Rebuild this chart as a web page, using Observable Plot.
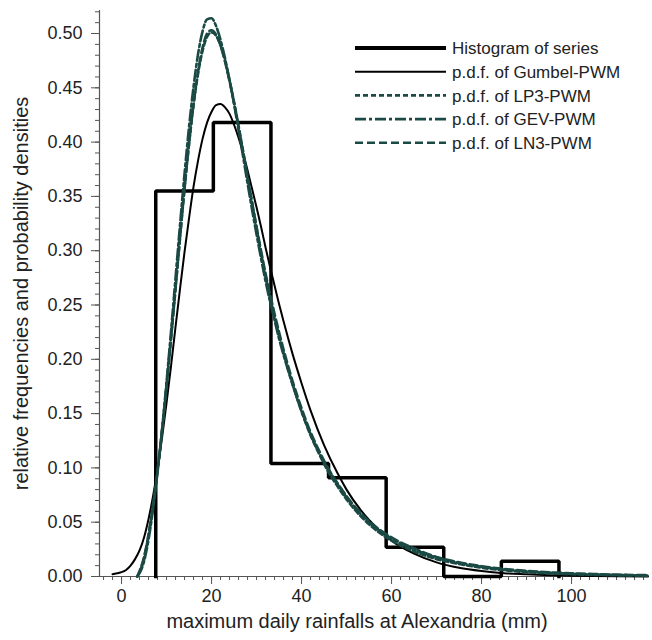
<!DOCTYPE html>
<html>
<head>
<meta charset="utf-8">
<script src="https://cdn.jsdelivr.net/npm/d3@7"></script>
<script src="https://cdn.jsdelivr.net/npm/@observablehq/plot@0.6"></script>
<style>
  html, body { margin: 0; padding: 0; background: #fff; }
  #wrap { position: relative; width: 652px; height: 640px; }
  #legend { position: absolute; left: 0; top: 0; pointer-events: none; }
</style>
</head>
<body>
<div id="wrap"></div>
<script>
// ---- data ----
const xTitle = "maximum daily rainfalls at Alexandria (mm)";
const yTitle = "relative frequencies and probability densities";
const xDomain = [-4.9, 117.1];
const yDomain = [0, 0.5212];
const xMajorTicks = [0, 20, 40, 60, 80, 100];
const yMajorTicks = [0, 0.05, 0.10, 0.15, 0.20, 0.25, 0.30, 0.35, 0.40, 0.45, 0.50];

// histogram of series
const binEdges = [7.6, 20.4, 33.2, 46.0, 58.8, 71.6, 84.4, 97.2];
const relFreq = [0.355, 0.418, 0.104, 0.091, 0.027, 0.0, 0.014];

// Gumbel-PWM density
const gumbelX = [-2,-1,0,1,2,3,4,5,6,7,8,9,10,11,12,13,14,15,16,17,18,19,20,21,22,23,24,25,26,27,28,29,30,31,32,33,34,35,36,38,40,42,45,48,50,55,60,65,70,75,80,85,90,95,100,105,110,117];
const gumbelY = [0.002,0.003,0.004,0.006,0.010,0.016,0.024,0.036,0.053,0.074,0.099,0.128,0.160,0.194,0.230,0.265,0.299,0.330,0.359,0.383,0.403,0.418,0.428,0.434,0.435,0.432,0.426,0.416,0.404,0.390,0.374,0.357,0.340,0.322,0.303,0.285,0.268,0.251,0.235,0.205,0.178,0.153,0.121,0.095,0.080,0.052,0.033,0.021,0.013,0.008,0.005,0.003,0.002,0.0012,0.0007,0.0004,0.0002,0.0001];

// LP3, GEV, LN3 densities (shared x grid)
const tealX = [3.5,4,5,6,7,8,9,10,11,12,13,14,15,16,17,18,19,20,21,22,23,24,25,26,27,28,29,30,31,32,33,34,35,36,37,38,40,42,44,46,48,50,55,60,65,70,75,80,85,90,95,100,105,110,117];
const lp3Y = [0,0.004,0.017,0.038,0.065,0.097,0.134,0.175,0.219,0.265,0.312,0.357,0.398,0.434,0.463,0.484,0.497,0.501,0.498,0.489,0.475,0.457,0.437,0.415,0.392,0.368,0.344,0.321,0.298,0.277,0.257,0.239,0.222,0.206,0.191,0.177,0.152,0.130,0.112,0.096,0.083,0.071,0.048,0.033,0.023,0.016,0.0115,0.008,0.0057,0.004,0.0029,0.0021,0.0015,0.0011,0.0007];
const gevY = [0,0.003,0.014,0.034,0.062,0.096,0.135,0.179,0.226,0.275,0.324,0.371,0.414,0.451,0.481,0.502,0.513,0.514,0.507,0.494,0.477,0.457,0.435,0.411,0.387,0.362,0.338,0.315,0.293,0.272,0.253,0.236,0.219,0.204,0.190,0.177,0.152,0.131,0.113,0.098,0.085,0.073,0.050,0.035,0.025,0.0175,0.0125,0.009,0.0065,0.0047,0.0035,0.0026,0.0019,0.0014,0.001];
const ln3Y = [0,0.005,0.018,0.039,0.066,0.098,0.135,0.176,0.220,0.266,0.313,0.358,0.399,0.435,0.465,0.487,0.500,0.503,0.499,0.489,0.474,0.456,0.436,0.414,0.391,0.368,0.345,0.322,0.300,0.279,0.260,0.242,0.225,0.209,0.194,0.180,0.155,0.133,0.115,0.099,0.086,0.074,0.051,0.036,0.026,0.018,0.013,0.0095,0.007,0.0052,0.0039,0.003,0.0023,0.0017,0.0012];

const legendLabels = ["Histogram of series", "p.d.f. of Gumbel-PWM", "p.d.f. of LP3-PWM", "p.d.f. of GEV-PWM", "p.d.f. of LN3-PWM"];

// ---- build ----
const teal = "#1b4a45";
const font = "'Liberation Sans', Arial, Helvetica, sans-serif";

const histPts = [{x: binEdges[0], y: 0}]
  .concat(relFreq.map((f, i) => ({x: binEdges[i], y: f})))
  .concat([{x: binEdges[binEdges.length - 1], y: 0}]);
const gumbel = gumbelX.map((x, i) => ({x, y: gumbelY[i]}));
const lp3 = tealX.map((x, i) => ({x, y: lp3Y[i]}));
const gev = tealX.map((x, i) => ({x, y: gevY[i]}));
const ln3 = tealX.map((x, i) => ({x, y: ln3Y[i]}));

const xMinor = d3.range(-4, 118, 2);
const yMinor = d3.range(0, 53).map(i => i / 100);

const chart = Plot.plot({
  width: 652,
  height: 640,
  marginLeft: 99,
  marginRight: 4,
  marginTop: 10,
  marginBottom: 64,
  x: {domain: xDomain},
  y: {domain: yDomain},
  style: {fontFamily: font, fontSize: "18px", color: "#222", background: "#fff", overflow: "visible"},
  marks: [
    Plot.axisX({ticks: xMinor, tickSize: 4, tickFormat: () => "", label: null, stroke: "#555"}),
    Plot.axisX({ticks: xMajorTicks, tickSize: 8, tickPadding: 5, tickFormat: d => String(d), label: null, stroke: "#555", fontSize: 18}),
    Plot.axisY({ticks: yMinor, tickSize: 4, tickFormat: () => "", label: null, stroke: "#555"}),
    Plot.axisY({ticks: yMajorTicks, tickSize: 8, tickPadding: 9, tickFormat: d3.format(".2f"), label: null, stroke: "#555", fontSize: 18}),
    Plot.ruleY([yDomain[0]], {stroke: "#555", strokeWidth: 1.2}),
    Plot.ruleX([xDomain[0]], {stroke: "#555", strokeWidth: 1.2}),
    Plot.line(histPts, {x: "x", y: "y", curve: "step-after", stroke: "#000", strokeWidth: 3.5, strokeLinejoin: "miter", strokeLinecap: "square"}),
    Plot.line(gumbel, {x: "x", y: "y", curve: "monotone-x", stroke: "#000", strokeWidth: 2}),
    Plot.line(lp3, {x: "x", y: "y", curve: "monotone-x", stroke: teal, strokeWidth: 2.6, strokeDasharray: "5,3"}),
    Plot.line(gev, {x: "x", y: "y", curve: "monotone-x", stroke: teal, strokeWidth: 2.6, strokeDasharray: "11,3,3,3"}),
    Plot.line(ln3, {x: "x", y: "y", curve: "monotone-x", stroke: teal, strokeWidth: 2.6, strokeDasharray: "8,4"}),
    Plot.text([xTitle], {text: d => d, frameAnchor: "bottom", textAnchor: "middle", dy: 51, dx: -17, fontSize: 20, fill: "#222"}),
    Plot.text([yTitle], {text: d => d, frameAnchor: "left", textAnchor: "middle", dx: -78, rotate: -90, fontSize: 20, fill: "#222"})
  ]
});

const wrap = document.getElementById("wrap");
wrap.appendChild(chart);

// legend overlay
const legendStyles = [
  {stroke: "#000", width: 4, dash: null},
  {stroke: "#000", width: 2, dash: null},
  {stroke: teal, width: 2.6, dash: "5,3"},
  {stroke: teal, width: 2.6, dash: "11,3,3,3"},
  {stroke: teal, width: 2.6, dash: "8,4"}
];
const lg = d3.select(wrap).append("svg")
  .attr("id", "legend")
  .attr("width", 652).attr("height", 640);
const rowY = i => 48 + i * 23.7;
legendLabels.forEach((lab, i) => {
  const s = legendStyles[i];
  lg.append("line")
    .attr("x1", 355).attr("x2", 446)
    .attr("y1", rowY(i)).attr("y2", rowY(i))
    .attr("stroke", s.stroke).attr("stroke-width", s.width)
    .attr("stroke-dasharray", s.dash);
  lg.append("text")
    .attr("x", 452).attr("y", rowY(i)).attr("dy", "0.36em")
    .attr("font-family", font).attr("font-size", 17).attr("fill", "#222")
    .text(lab);
});
</script>
</body>
</html>
